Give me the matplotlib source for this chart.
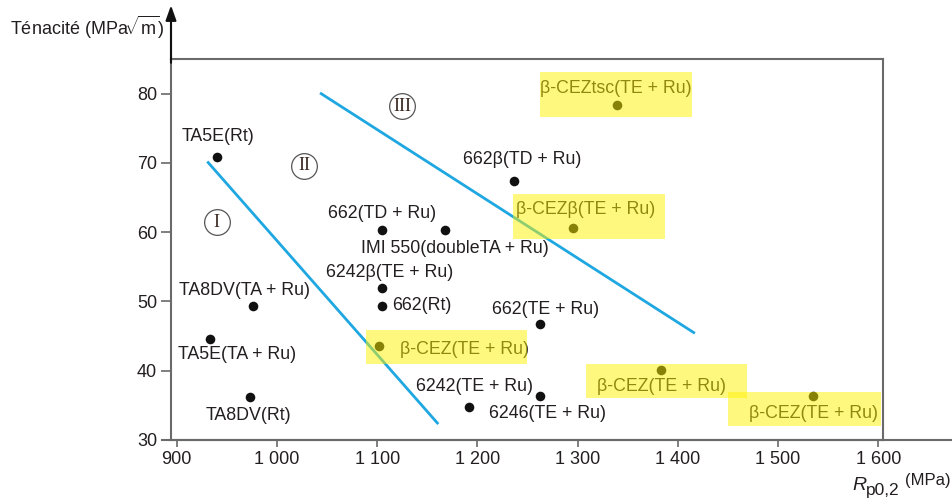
import matplotlib
matplotlib.use("Agg")
import matplotlib.pyplot as plt
from matplotlib.patches import Rectangle
from matplotlib.ticker import FuncFormatter

# alloys: yield strength Rp0.2 (MPa) vs toughness (MPa sqrt m)
labels = ["TA5E(Rt)", "TA8DV(TA + Ru)", "TA5E(TA + Ru)", "TA8DV(Rt)",
          "662(TD + Ru)", "IMI 550(doubleTA + Ru)", "6242β(TE + Ru)", "662(Rt)",
          "β-CEZ(TE + Ru)", "6242(TE + Ru)", "6246(TE + Ru)", "662(TE + Ru)",
          "662β(TD + Ru)", "β-CEZβ(TE + Ru)", "β-CEZtsc(TE + Ru)",
          "β-CEZ(TE + Ru)", "β-CEZ(TE + Ru)"]
rp02 = [940, 976, 933, 973, 1105, 1168, 1105, 1105, 1102, 1262, 1192, 1262,
        1237, 1295, 1339, 1383, 1535]
tenacite = [70.9, 49.4, 44.6, 36.2, 60.3, 60.3, 51.9, 49.4, 43.6, 36.4, 34.7,
            46.7, 67.4, 60.6, 78.3, 40.1, 36.3]

# domain boundaries
line1_x = [930.5, 1161]
line1_y = [70.2, 32.3]
line2_x = [1043, 1417]
line2_y = [80.1, 45.4]

zones = ["I", "II", "III"]
zone_x = [940, 1027, 1125]
zone_y = [61.4, 69.6, 78.2]

xticks = [900, 1000, 1100, 1200, 1300, 1400, 1500, 1600]
yticks = [30, 40, 50, 60, 70, 80]

# label placement: offset in pixels from the point, alignment
label_pos = [(1, 20, "center"), (-8, 15, "center"), (27, -16, "center"),
             (-1, -18, "center"), (0, 17, "center"), (10, -18, "center"),
             (7, 16, "center"), (10, 0, "left"), (21, -4, "left"),
             (-7, 9, "right"), (20, -6, "left"), (6, 15, "center"),
             (8, 21, "center"), (13, 19, "center"), (-1, 17, "center"),
             (1, -16, "center"), (0, -17, "center")]
# yellow highlight boxes: left, right, top, bottom in pixels around the point
box_pos = {8: (-13, 148, 16, -18), 13: (-60, 92, 34, -11), 14: (-77, 75, 33, -12),
           15: (-75, 86, 6, -28), 16: (-85, 68, 4, -30)}

plt.rcParams["font.family"] = ["Liberation Sans", "DejaVu Sans"]
plt.rcParams["mathtext.fontset"] = "custom"
plt.rcParams["mathtext.rm"] = "Liberation Sans"
plt.rcParams["mathtext.it"] = "Liberation Sans:italic"

W, H = 953, 500
fig = plt.figure(figsize=(W / 100, H / 100), dpi=100)
ax = fig.add_axes([171 / W, 60 / H, 712 / W, 381 / H])
ax.set_xlim(894.3, 1604.7)
ax.set_ylim(30, 85)

txt_col = "#231f20"
axis_col = "#6a6a6a"
blue = "#1ea7e1"
fs = 12.8

for s in ax.spines.values():
    s.set_color(axis_col)
    s.set_linewidth(1.5)
ax.set_xticks(xticks)
ax.set_yticks(yticks)
ax.xaxis.set_major_formatter(FuncFormatter(lambda v, p: f"{int(v):,}".replace(",", " ")))
ax.tick_params(axis="both", colors=axis_col, labelcolor=txt_col, labelsize=13, width=1.2)
ax.tick_params(axis="x", length=5, pad=3)
ax.tick_params(axis="y", length=7, pad=3)

# x axis runs past the frame, y axis ends with an arrow
ax.plot([-0.013, 1.1], [0, 0], transform=ax.transAxes, color=axis_col, lw=1.5, clip_on=False)
ax.annotate("", xy=(0, 1.141), xytext=(0, 0.99), xycoords="axes fraction",
            arrowprops=dict(arrowstyle="-|>,head_length=0.45,head_width=0.16",
                            mutation_scale=20, color="#111111", lw=1.5, shrinkA=0, shrinkB=0))
ax.plot([0, 0], [1, 1.1], transform=ax.transAxes, color=axis_col, lw=1.5, clip_on=False)

ax.plot(line1_x, line1_y, color=blue, lw=2, solid_capstyle="butt")
ax.plot(line2_x, line2_y, color=blue, lw=2, solid_capstyle="butt")

ax.scatter(rp02, tenacite, s=48, color="#111111", zorder=3, linewidths=0)

for name, zx, zy in zip(zones, zone_x, zone_y):
    ax.plot(zx, zy, "o", ms=18.5, mfc="white", mec="#555555", mew=0.9, zorder=3)
    ax.text(zx, zy, name, ha="center", va="center", fontsize=13,
            family=["Liberation Serif"], color="#3a2a22", zorder=4)

for i, (name, x, y) in enumerate(zip(labels, rp02, tenacite)):
    dx, dy, ha = label_pos[i]
    ax.annotate(name, (x, y), xytext=(dx, dy), textcoords="offset pixels",
                ha=ha, va="center", fontsize=fs, color=txt_col, zorder=4)

# pixel -> data scale for the highlight boxes
fig.canvas.draw()
sx = (ax.get_xlim()[1] - ax.get_xlim()[0]) / ax.bbox.width
sy = (ax.get_ylim()[1] - ax.get_ylim()[0]) / ax.bbox.height
for i, (l, r, t, b) in box_pos.items():
    x, y = rp02[i], tenacite[i]
    ax.add_patch(Rectangle((x + l * sx, y + b * sy), (r - l) * sx, (t - b) * sy,
                           facecolor="#fff200", alpha=0.5, edgecolor="none",
                           zorder=5, clip_on=False))

fig.text(10 / W, 1 - 27 / H, r"Ténacité (MPa$\!\sqrt{\mathrm{m}}$)", ha="left", va="center",
         fontsize=13, color=txt_col)
fig.text(852 / W, 1 - 485 / H, "R", ha="left", va="center", style="italic",
         fontsize=14, color=txt_col)
fig.text(866 / W, 1 - 490 / H, "p0,2", ha="left", va="center",
         fontsize=12.5, color=txt_col)
fig.text(951 / W, 1 - 481 / H, "(MPa)", ha="right", va="center",
         fontsize=12, color=txt_col)

fig.savefig("out.png", dpi=100)
